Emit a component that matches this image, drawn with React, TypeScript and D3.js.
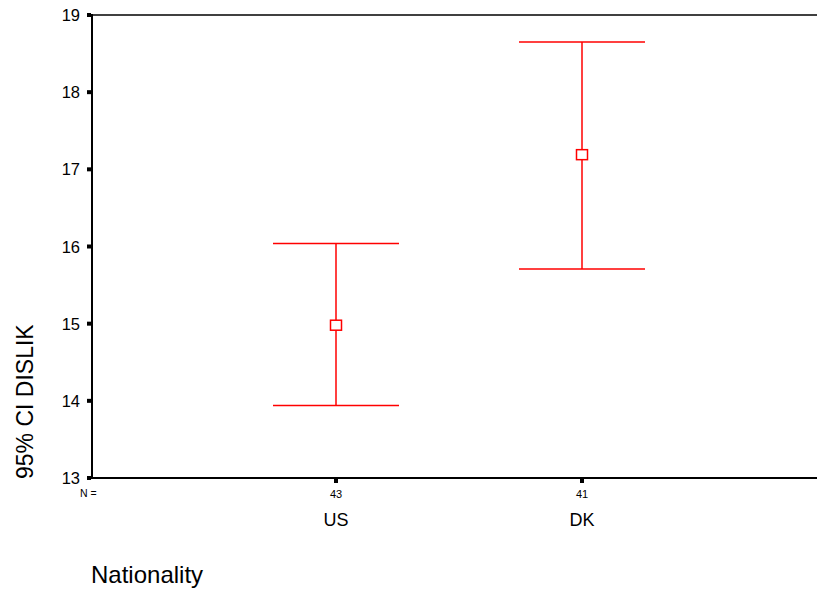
import React from "react";
import * as d3 from "d3";

const categories = ["US", "DK"];
const counts = [43, 41];
const means = [14.98, 17.19];
const lowers = [13.94, 15.71];
const uppers = [16.04, 18.65];
const yTicks = [13, 14, 15, 16, 17, 18, 19];

export default function App() {
  const W = 817, H = 595;
  const left = 92, top = 15, bottom = 478;
  const y = d3.scaleLinear().domain([13, 19]).range([bottom, top]);
  const x = d3.scaleLinear().domain([0, 1]).range([336, 582]);
  const capHalf = 63;
  const font = "Liberation Sans, Arial, sans-serif";
  return (
    <svg width={W} height={H} style={{ position: "absolute", left: 0, top: 0 }} fontFamily={font}>
      <rect width={W} height={H} fill="white" />
      <line x1={left} x2={W} y1={top} y2={top} stroke="black" strokeWidth={1.5} />
      <line x1={left} x2={left} y1={top - 1} y2={bottom + 1} stroke="black" strokeWidth={2} />
      <line x1={left - 1} x2={W} y1={bottom} y2={bottom} stroke="black" strokeWidth={2} />
      {yTicks.map((t) => (
        <g key={t}>
          <rect x={left - 5} y={y(t) - 2} width={4} height={4} fill="black" />
          <text x={80} y={y(t) + 6} textAnchor="end" fontSize={16.5} fill="black">{t}</text>
        </g>
      ))}
      <text x={80} y={497} fontSize={10.5} fill="black">N =</text>
      {categories.map((c, i) => (
        <g key={c}>
          <rect x={x(i) - 2} y={bottom + 1} width={4} height={4} fill="black" />
          <text x={x(i)} y={498} textAnchor="middle" fontSize={11} fill="black">{counts[i]}</text>
          <text x={x(i)} y={526} textAnchor="middle" fontSize={18} fill="black">{c}</text>
          <line x1={x(i)} x2={x(i)} y1={y(uppers[i])} y2={y(lowers[i])} stroke="#ff0000" strokeWidth={1.5} />
          <line x1={x(i) - capHalf} x2={x(i) + capHalf} y1={y(uppers[i])} y2={y(uppers[i])} stroke="#ff0000" strokeWidth={1.5} />
          <line x1={x(i) - capHalf} x2={x(i) + capHalf} y1={y(lowers[i])} y2={y(lowers[i])} stroke="#ff0000" strokeWidth={1.5} />
          <rect x={x(i) - 5.5} y={y(means[i]) - 5} width={11} height={10} fill="white" stroke="#ff0000" strokeWidth={1.5} />
        </g>
      ))}
      <text transform={`translate(33,479) rotate(-90)`} fontSize={23} fill="black">95% CI DISLIK</text>
      <text x={91} y={583} fontSize={24} fill="black">Nationality</text>
    </svg>
  );
}
